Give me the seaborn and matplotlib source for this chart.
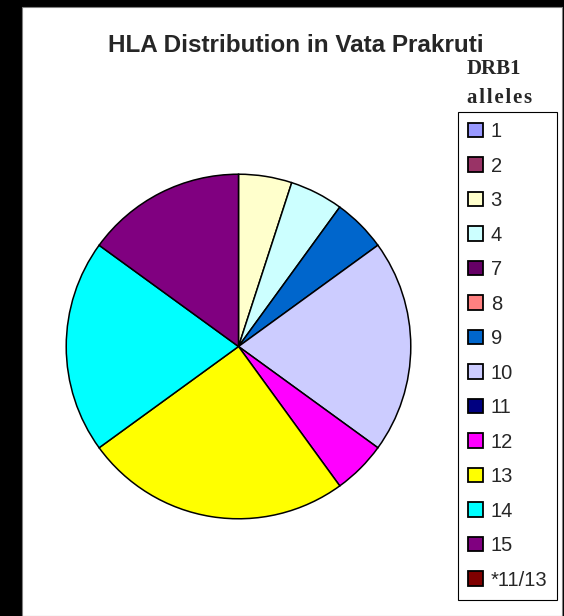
import matplotlib
matplotlib.use("Agg")
import matplotlib.pyplot as plt
from matplotlib.patches import Patch, Rectangle
import seaborn as sns

# DRB1 alleles and counts (20 alleles in total)
alleles = ["1", "2", "3", "4", "7", "8", "9", "10", "11", "12", "13", "14", "15", "*11/13"]
counts = [0, 0, 1, 1, 0, 0, 1, 4, 0, 1, 5, 4, 3, 0]
colors = ["#9999FF", "#993366", "#FFFFCC", "#CCFFFF", "#660066", "#FF8080", "#0066CC",
          "#CCCCFF", "#000080", "#FF00FF", "#FFFF00", "#00FFFF", "#800080", "#800000"]
title = "HLA Distribution in Vata Prakruti"

sns.set_style("white")
plt.rcParams["font.family"] = ["Liberation Sans", "DejaVu Sans"]

W, H = 564, 616
fig = plt.figure(figsize=(W / 100, H / 100), dpi=100, facecolor="black")
fig.add_artist(Rectangle((22 / W, 0), 540 / W, 609 / H, transform=fig.transFigure,
                         facecolor="white", edgecolor="#808080", linewidth=0.8, zorder=-1))

# pie axes placed in pixel terms
cx, cy, r = 238.5, 346.5, 174
ax = fig.add_axes([(cx - r) / W, (H - cy - r) / H, 2 * r / W, 2 * r / H])
nz = [i for i, c in enumerate(counts) if c > 0]
ax.pie([counts[i] for i in nz], colors=[colors[i] for i in nz], startangle=90,
       counterclock=False, wedgeprops=dict(edgecolor="black", linewidth=1.1))
ax.set_xlim(-1.01, 1.01)
ax.set_ylim(-1.01, 1.01)
ax.axis("off")

handles = [Patch(facecolor=c, edgecolor="black", linewidth=1.3) for c in colors]
leg = fig.legend(handles, alleles, loc="upper left",
                 bbox_to_anchor=(458 / W, (H - 112) / H), bbox_transform=fig.transFigure,
                 borderaxespad=0, fontsize=14.5, frameon=True, fancybox=False,
                 edgecolor="black", framealpha=1, handlelength=0.72, handleheight=0.72,
                 handletextpad=0.4, borderpad=0.5, labelspacing=0.77)
leg.get_frame().set_linewidth(0.8)

fig.text(296 / W, (H - 52) / H, title, ha="center", va="baseline",
         fontsize=17.5, fontweight="bold")
serif = ["Liberation Serif", "DejaVu Serif"]
fig.text(467 / W, (H - 74) / H, "DRB1", ha="left", va="baseline",
         family=serif, fontsize=15, fontweight="bold")
fig.text(467 / W, (H - 103) / H, "\u200a".join("alleles"), ha="left", va="baseline",
         family=serif, fontsize=15, fontweight="bold")

fig.savefig("out.png", dpi=100, facecolor=fig.get_facecolor())
